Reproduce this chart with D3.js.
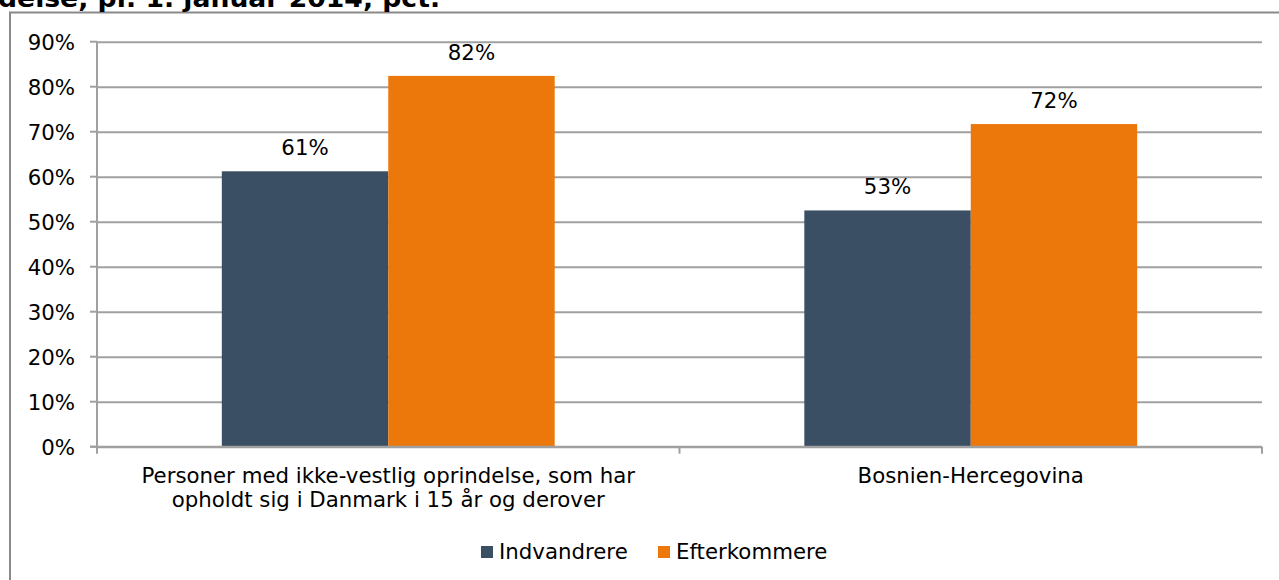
<!DOCTYPE html>
<html><head><meta charset="utf-8">
<script src="https://cdn.jsdelivr.net/npm/d3@7"></script>
<style>
html,body{margin:0;padding:0;background:#fff;}
svg{display:block;font-family:"DejaVu Sans",Verdana,sans-serif;}
</style></head>
<body>
<svg id="chart" width="1279" height="580"></svg>
<script>
const categories = [
  ["Personer med ikke-vestlig oprindelse, som har", "opholdt sig i Danmark i 15 år og derover"],
  ["Bosnien-Hercegovina"]
];
const seriesNames = ["Indvandrere", "Efterkommere"];
const indvandrere = [61.2, 52.5];
const efterkommere = [82.4, 71.7];
const valueLabels = [["61%", "82%"], ["53%", "72%"]];
const yTicks = [0, 10, 20, 30, 40, 50, 60, 70, 80, 90];
const colors = ["#3a4f63", "#ec780c"];
const titleText = "delse, pr. 1. januar 2014, pct.";

(function () {
const svg = d3.select("#chart");
const pL = 97, pR = 1262, pT = 41.7, pB = 446.7;
const fs = 21.3;

// frame
svg.append("path")
  .attr("d", `M10,580 V12.5 H1290`)
  .attr("fill", "none").attr("stroke", "#8a8a8a").attr("stroke-width", 2);

// title (cut off at the top, as in the reference)
svg.append("text").attr("x", -2).attr("y", 7)
  .attr("font-size", 24).attr("font-weight", "bold").attr("fill", "#000")
  .attr("textLength", 442).attr("lengthAdjust", "spacingAndGlyphs")
  .text(titleText);

const y = d3.scaleLinear().domain([0, 90]).range([pB, pT]);
const x0 = d3.scaleBand().domain(d3.range(categories.length)).range([pL, pR]).padding(0);
const x1 = d3.scaleBand().domain(d3.range(seriesNames.length)).range([0, x0.bandwidth()])
  .paddingInner(0).paddingOuter(0.75);

// gridlines + y axis
const yAxis = d3.axisLeft(y).tickValues(yTicks).tickFormat(d => d + "%")
  .tickSize(-(pR - pL)).tickPadding(22);
const gy = svg.append("g").attr("transform", `translate(${pL},0)`).call(yAxis);
gy.select(".domain").remove();
gy.selectAll(".tick line").attr("stroke", "#a0a0a0").attr("stroke-width", 2);
gy.selectAll(".tick text").attr("font-size", fs).attr("fill", "#000")
  .attr("font-family", "DejaVu Sans, Verdana, sans-serif").attr("dy", "0.36em");
svg.append("g").selectAll("line").data(yTicks).join("line")
  .attr("x1", pL - 7).attr("x2", pL).attr("y1", d => y(d)).attr("y2", d => y(d))
  .attr("stroke", "#a0a0a0").attr("stroke-width", 2);
svg.append("line").attr("x1", pL).attr("x2", pL).attr("y1", pT).attr("y2", pB)
  .attr("stroke", "#a0a0a0").attr("stroke-width", 2);

// bars
const data = [indvandrere, efterkommere];
const groups = svg.append("g").selectAll("g").data(categories.map((c, i) => i)).join("g")
  .attr("transform", i => `translate(${x0(i)},0)`);
groups.selectAll("rect").data(i => data.map((s, j) => ({ j, v: s[i] }))).join("rect")
  .attr("x", d => x1(d.j)).attr("width", x1.bandwidth())
  .attr("y", d => y(d.v)).attr("height", d => pB - y(d.v))
  .attr("fill", d => colors[d.j]);
groups.selectAll("text.val").data(i => data.map((s, j) => ({ j, v: s[i], t: valueLabels[i][j] }))).join("text")
  .attr("class", "val")
  .attr("x", d => x1(d.j) + x1.bandwidth() / 2).attr("y", d => y(d.v) - 16)
  .attr("text-anchor", "middle").attr("font-size", fs).attr("fill", "#000")
  .text(d => d.t);

// x axis baseline and ticks
svg.append("line").attr("x1", pL - 7).attr("x2", pR).attr("y1", pB).attr("y2", pB)
  .attr("stroke", "#a0a0a0").attr("stroke-width", 2);
const xTicks = [pL, ...d3.range(1, categories.length).map(i => x0(i)), pR];
svg.append("g").selectAll("line").data(xTicks).join("line")
  .attr("x1", d => d).attr("x2", d => d).attr("y1", pB).attr("y2", pB + 7)
  .attr("stroke", "#a0a0a0").attr("stroke-width", 2);

// category labels
svg.append("g").selectAll("text").data(categories.map((c, i) => i)).join("text")
  .attr("x", i => x0(i) + x0.bandwidth() / 2).attr("y", 483)
  .attr("text-anchor", "middle").attr("font-size", fs).attr("fill", "#000")
  .each(function (i) {
    d3.select(this).selectAll("tspan").data(categories[i]).join("tspan")
      .attr("x", x0(i) + x0.bandwidth() / 2).attr("dy", (d, k) => k === 0 ? 0 : 24)
      .text(d => d);
  });

// legend
const legendX = [481, 658];
const lg = svg.append("g").selectAll("g").data(seriesNames).join("g")
  .attr("transform", (d, i) => `translate(${legendX[i]},546)`);
lg.append("rect").attr("width", 12).attr("height", 12).attr("fill", (d, i) => colors[i]);
lg.append("text").attr("x", 18).attr("y", 13).attr("font-size", fs).attr("fill", "#000").text(d => d);
})();
</script>
</body></html>
